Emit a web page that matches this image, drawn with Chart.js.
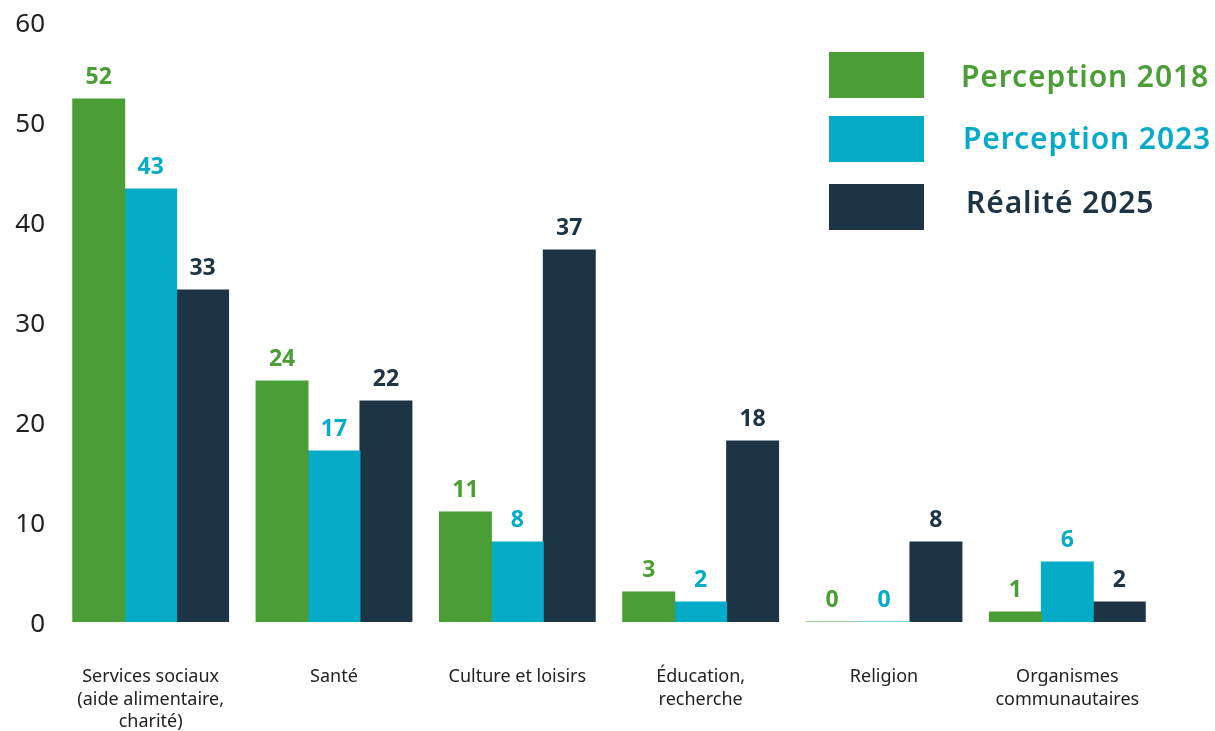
<!DOCTYPE html>
<html>
<head>
<meta charset="utf-8">
<script src="https://cdn.jsdelivr.net/npm/chart.js@4.4.1/dist/chart.umd.min.js"></script>
<style>
  body { margin: 0; background: #fff; }
  #wrap { position: relative; width: 1215px; height: 731px; }
  .leg { position: absolute; left: 829px; width: 95px; height: 46px; }
  .legText { position: absolute; font-family: "Noto Sans", sans-serif; font-weight: 600; font-size: 30px; letter-spacing: 0.9px; line-height: 1; white-space: nowrap; }
</style>
</head>
<body>
<div id="wrap">
  <canvas id="chart" width="1215" height="731"></canvas>
  <div class="leg" style="top:52px;background:#4a9e35"></div>
  <div class="leg" style="top:116px;background:#06abc8"></div>
  <div class="leg" style="top:184px;background:#1c3444"></div>
  <div class="legText" style="left:961px;top:61px;color:#4a9e35">Perception 2018</div>
  <div class="legText" style="left:963px;top:123px;color:#06abc8">Perception 2023</div>
  <div class="legText" style="left:966px;top:187px;color:#1c3444">Réalité 2025</div>
</div>
<script>
const categories = [
  ['Services sociaux', '(aide alimentaire,', 'charité)'],
  ['Santé'],
  ['Culture et loisirs'],
  ['Éducation,', 'recherche'],
  ['Religion'],
  ['Organismes', 'communautaires']
];
const perception2018 = [52.3, 24.1, 11.0, 3.0, 0, 1.0];
const perception2023 = [43.3, 17.1, 8.0, 2.0, 0, 6.0];
const realite2025 = [33.2, 22.1, 37.2, 18.1, 8.0, 2.0];
const yTicks = [0, 10, 20, 30, 40, 50, 60];

const colors = ['#4a9e35', '#06abc8', '#1c3444'];

// étiquettes au-dessus des barres
const barLabels = {
  id: 'barLabels',
  afterDatasetsDraw(chart) {
    const ctx = chart.ctx;
    ctx.save();
    ctx.font = 'bold 23px "Noto Sans", sans-serif';
    ctx.textAlign = 'center';
    ctx.textBaseline = 'middle';
    chart.data.datasets.forEach((ds, i) => {
      const meta = chart.getDatasetMeta(i);
      ctx.fillStyle = ds.backgroundColor;
      meta.data.forEach((bar, j) => {
        ctx.fillText(Math.round(ds.data[j]), bar.x, bar.y - 22);
      });
    });
    ctx.restore();
  }
};

new Chart(document.getElementById('chart').getContext('2d'), {
  type: 'bar',
  data: {
    labels: categories,
    datasets: [
      { label: 'Perception 2018', data: perception2018, backgroundColor: colors[0] },
      { label: 'Perception 2023', data: perception2023, backgroundColor: colors[1] },
      { label: 'Réalité 2025', data: realite2025, backgroundColor: colors[2] }
    ]
  },
  options: {
    responsive: false,
    animation: false,
    layout: { padding: { top: 22, right: 56, left: 0, bottom: 0 } },
    datasets: { bar: { categoryPercentage: 0.85, barPercentage: 1.0, inflateAmount: 0.5 } },
    plugins: { legend: { display: false }, tooltip: { enabled: false } },
    scales: {
      x: {
        grid: { display: false, drawTicks: false },
        border: { display: false },
        ticks: {
          color: '#222',
          padding: 44,
          maxRotation: 0,
          font: { family: '"Noto Sans", sans-serif', size: 18, lineHeight: 1.25 }
        },
        afterFit: scale => { scale.height = 109; }
      },
      y: {
        min: 0,
        max: 60,
        grid: { display: false, drawTicks: false },
        border: { display: false },
        afterBuildTicks: scale => { scale.ticks = yTicks.map(v => ({ value: v })); },
        afterFit: scale => {
          scale.width = 59;
          scale.paddingTop = 0;
          scale.paddingBottom = 0;
        },
        ticks: {
          color: '#222',
          padding: 14,
          labelOffset: 3,
          font: { family: '"Noto Sans", sans-serif', size: 26 }
        }
      }
    }
  },
  plugins: [barLabels]
});
</script>
</body>
</html>
